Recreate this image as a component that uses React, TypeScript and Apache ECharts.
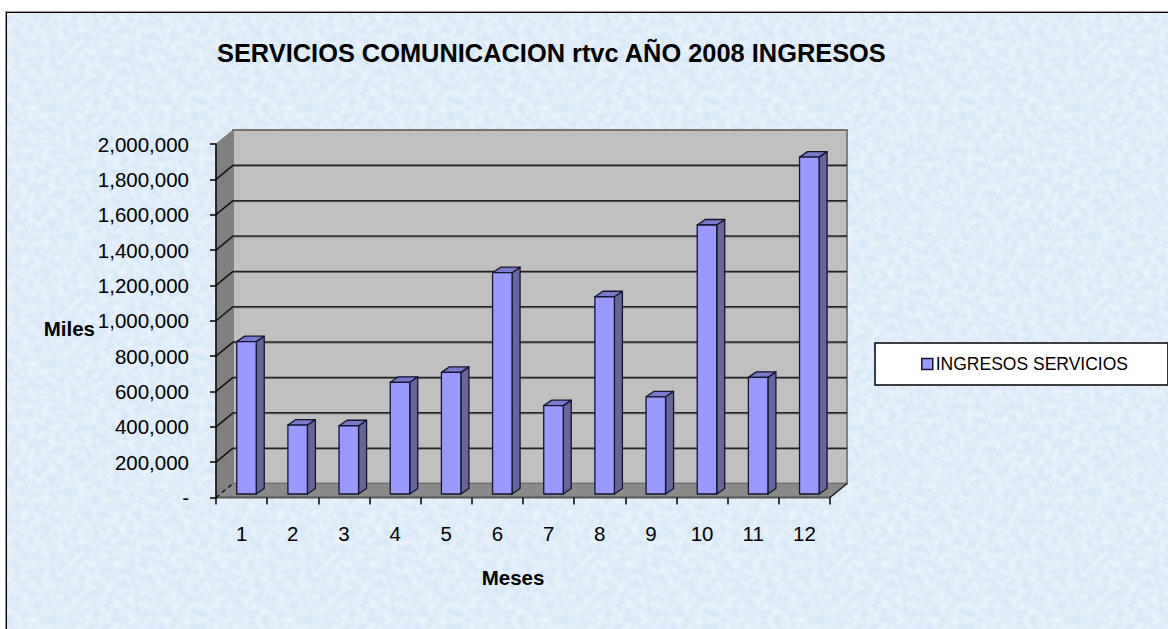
import React, { useEffect, useRef } from "react";
import * as echarts from "echarts";

const TITLE = "SERVICIOS COMUNICACION rtvc AÑO 2008 INGRESOS";
const SERIES_NAME = "INGRESOS SERVICIOS";
const months = ["1", "2", "3", "4", "5", "6", "7", "8", "9", "10", "11", "12"];
const ingresos = [862000, 390000, 386000, 632000, 688000, 1252000, 500000, 1116000, 550000, 1522000, 660000, 1906000];
const yTicks = [0, 200000, 400000, 600000, 800000, 1000000, 1200000, 1400000, 1600000, 1800000, 2000000];

const FONT = '"Liberation Sans", Arial, sans-serif';
const DEPTH_X = 17;
const DEPTH_Y = 14;

const texture =
  "url(\"data:image/svg+xml," +
  encodeURIComponent(
    '<svg xmlns="http://www.w3.org/2000/svg" width="256" height="256"><filter id="n" x="0" y="0" width="100%" height="100%"><feTurbulence type="fractalNoise" baseFrequency="0.14" numOctaves="3" seed="7" stitchTiles="stitch"/><feColorMatrix values="0 0 0 0 1  0 0 0 0 1  0 0 0 0 1  0.9 0 0 0 -0.22"/></filter><rect width="256" height="256" filter="url(#n)"/></svg>'
  ) +
  "\")";

function renderWall(params: any, api: any) {
  const cs = params.coordSys;
  const value = api.value(1);
  const y = api.coord([0, value])[1];
  const x0 = cs.x;
  const x1 = cs.x + cs.width;
  const children: any[] = [];
  if (params.dataIndex === 0) {
    const yTop = cs.y;
    const yBot = cs.y + cs.height;
    children.push(
      {
        type: "polygon",
        shape: { points: [[x0 + DEPTH_X, yTop - DEPTH_Y], [x1 + DEPTH_X, yTop - DEPTH_Y], [x1 + DEPTH_X, yBot - DEPTH_Y], [x0 + DEPTH_X, yBot - DEPTH_Y]] },
        style: { fill: "#c0c0c0", stroke: "#808080", lineWidth: 2 },
      },
      {
        type: "polygon",
        shape: { points: [[x0, yTop], [x0 + DEPTH_X, yTop - DEPTH_Y], [x0 + DEPTH_X, yBot - DEPTH_Y], [x0, yBot]] },
        style: { fill: "#808080", stroke: "#808080", lineWidth: 1 },
      },
      {
        type: "polygon",
        shape: { points: [[x0, yBot], [x0 + DEPTH_X, yBot - DEPTH_Y], [x1 + DEPTH_X, yBot - DEPTH_Y], [x1, yBot]] },
        style: { fill: "#8a8a8a", stroke: "#6e6e6e", lineWidth: 1 },
      },
      {
        type: "line",
        shape: { x1: x0, y1: yBot, x2: x1, y2: yBot },
        style: { stroke: "#555555", lineWidth: 2 },
      },
      {
        type: "line",
        shape: { x1: x1, y1: yBot, x2: x1 + DEPTH_X, y2: yBot - DEPTH_Y },
        style: { stroke: "#222222", lineWidth: 1.5 },
      }
    );
  }
  if (value >= 2000000) {
    children.push({ type: "line", shape: { x1: x0 + DEPTH_X, y1: y - DEPTH_Y, x2: x1 + DEPTH_X, y2: y - DEPTH_Y }, style: { stroke: "#747474", lineWidth: 2 } });
  } else if (value > 0) {
    children.push(
      { type: "line", shape: { x1: x0 + DEPTH_X, y1: y - DEPTH_Y + 1, x2: x1 + DEPTH_X, y2: y - DEPTH_Y + 1 }, style: { stroke: "#777777", lineWidth: 1 } },
      { type: "line", shape: { x1: x0, y1: y, x2: x0 + DEPTH_X, y2: y - DEPTH_Y }, style: { stroke: "#111111", lineWidth: 1.5 } },
      { type: "line", shape: { x1: x0 + DEPTH_X, y1: y - DEPTH_Y, x2: x1 + DEPTH_X, y2: y - DEPTH_Y }, style: { stroke: "#222222", lineWidth: 1.5 } }
    );
  } else {
    children.push({
      type: "line",
      shape: { x1: x0, y1: y, x2: x0 + DEPTH_X, y2: y - DEPTH_Y },
      style: { stroke: "#111111", lineWidth: 1.5, lineDash: [4, 4] },
    });
  }
  return { type: "group", children };
}

function renderBar(params: any, api: any) {
  const top = api.coord([api.value(0), api.value(1)]);
  const base = api.coord([api.value(0), 0]);
  const faceW = 19.5;
  const dx = 8;
  const dy = 5.5;
  const left = top[0] - faceW / 2 + 4.9;
  const right = left + faceW;
  const yBot = base[1] - 3.5;
  const yTop = top[1] - 3.5;
  const edge = { stroke: "#14142e", lineWidth: 1.3, lineJoin: "round" };
  return {
    type: "group",
    children: [
      {
        type: "polygon",
        shape: { points: [[right, yTop], [right + dx, yTop - dy], [right + dx, yBot - dy], [right, yBot]] },
        style: { fill: "#666699", ...edge },
      },
      {
        type: "polygon",
        shape: { points: [[left, yTop], [left + dx, yTop - dy], [right + dx, yTop - dy], [right, yTop]] },
        style: { fill: "#7a7acc", ...edge },
      },
      {
        type: "rect",
        shape: { x: left, y: yTop, width: faceW, height: yBot - yTop },
        style: { fill: "#9999ff", ...edge },
      },
    ],
  };
}

export default function App() {
  const ref = useRef<HTMLDivElement>(null);
  useEffect(() => {
    const chart = echarts.init(ref.current!, undefined, { renderer: "svg" });
    chart.setOption({
      animation: false,
      backgroundColor: "transparent",
      textStyle: { fontFamily: FONT },
      title: {
        text: TITLE,
        left: 217,
        top: 40,
        padding: 0,
        textStyle: { fontFamily: FONT, fontSize: 25.4, fontWeight: "bold", color: "#000" },
      },
      legend: {
        left: 875,
        top: 343,
        orient: "horizontal",
        data: [{ name: SERIES_NAME, icon: "rect" }],
        itemWidth: 11,
        itemHeight: 11,
        itemGap: 0,
        padding: [12, 40, 12, 46],
        backgroundColor: "#ffffff",
        borderColor: "#000000",
        borderWidth: 1.5,
        borderRadius: 0,
        itemStyle: { color: "#9999ff", borderColor: "#14142e", borderWidth: 1.5 },
        textStyle: { fontFamily: FONT, fontSize: 17.5, color: "#000", padding: [0, 0, 0, -2] },
      },
      grid: { left: 216, top: 144, width: 614, height: 353.5, containLabel: false },
      xAxis: {
        type: "category",
        data: months,
        boundaryGap: true,
        name: "Meses",
        nameLocation: "middle",
        nameGap: 69,
        nameMoveOverlap: false,
        nameTextStyle: { fontFamily: FONT, fontSize: 20.5, fontWeight: "bold", color: "#000", padding: [0, 20, 0, 0] },
        z: 3,
        axisLine: { show: false },
        axisTick: { show: true, length: 7, lineStyle: { color: "#000", width: 1.5 } },
        axisLabel: { margin: 25, fontFamily: FONT, fontSize: 20.5, color: "#000" },
        splitLine: { show: false },
      },
      yAxis: {
        type: "value",
        min: 0,
        max: 2000000,
        interval: 200000,
        name: "Miles",
        nameLocation: "middle",
        nameRotate: 0,
        nameGap: 121,
        nameMoveOverlap: false,
        nameTextStyle: { fontFamily: FONT, fontSize: 20.5, fontWeight: "bold", color: "#000", verticalAlign: "top", lineHeight: 15 },
        z: 3,
        axisLine: { show: true, lineStyle: { color: "#000", width: 1.5 } },
        axisTick: { show: true, length: 6, lineStyle: { color: "#000", width: 1.5 } },
        axisLabel: {
          margin: 27,
          fontFamily: FONT,
          fontSize: 20.5,
          color: "#000",
          formatter: (v: number) => (v === 0 ? "-" : v.toLocaleString("en-US")),
        },
        splitLine: { show: false },
      },
      series: [
        {
          type: "custom",
          name: "walls",
          z: 1,
          silent: true,
          clip: false,
          renderItem: renderWall,
          encode: { x: 0, y: 1 },
          data: yTicks.map((v) => [0, v]),
        },
        {
          type: "custom",
          name: SERIES_NAME,
          z: 2,
          clip: false,
          renderItem: renderBar,
          encode: { x: 0, y: 1 },
          itemStyle: { color: "#9999ff" },
          data: ingresos.map((v, i) => [i, v]),
        },
      ],
    });
    return () => chart.dispose();
  }, []);
  return (
    <div style={{ position: "absolute", left: 0, top: 0, width: 1168, height: 629, overflow: "hidden", background: "#fff" }}>
      <div
        style={{
          position: "absolute",
          left: 6,
          top: 12,
          width: 1180,
          height: 640,
          boxSizing: "border-box",
          border: "1px solid #000",
          boxShadow: "0 0 0 1px #9a9a9a",
          backgroundColor: "#d6e7f7",
          backgroundImage: texture,
        }}
      />
      <div ref={ref} style={{ position: "absolute", left: 0, top: 0, width: 1168, height: 629 }} />
    </div>
  );
}
